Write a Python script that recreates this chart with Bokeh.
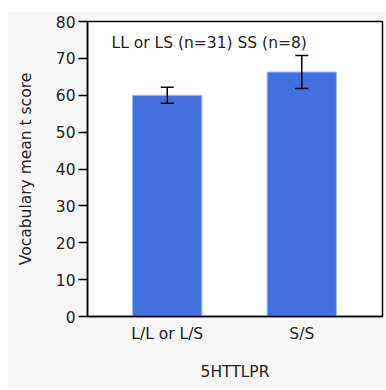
from bokeh.plotting import figure
from bokeh.models import FixedTicker, Whisker, TeeHead, ColumnDataSource, Label, Range1d
from bokeh.embed import file_html
from bokeh.resources import INLINE

# Vocabulary t scores by 5HTTLPR genotype group
genotypes = ["L/L or L/S", "S/S"]
mean_scores = [60.0, 66.3]
sem_scores = [2.2, 4.5]
y_ticks = [0, 10, 20, 30, 40, 50, 60, 70, 80]
group_note = "LL or LS (n=31) SS (n=8)"

positions = list(range(1, len(genotypes) + 1))
source = ColumnDataSource(dict(
    x=positions,
    top=mean_scores,
    upper=[m + s for m, s in zip(mean_scores, sem_scores)],
    lower=[m - s for m, s in zip(mean_scores, sem_scores)],
))

FONT = "DejaVu Sans"
TEXT = "#222222"
SIZE = "15.5px"

p = figure(width=379, height=377, output_backend="svg", toolbar_location=None,
           x_range=Range1d(0.407, 2.6), y_range=Range1d(0, 80),
           min_border_left=80, min_border_top=10, min_border_right=4,
           min_border_bottom=72)
p.margin = (11, 0, 2, 7)
p.border_fill_color = "#f7f7f7"
p.background_fill_color = "white"
p.outline_line_color = "black"
p.outline_line_width = 1.5
p.grid.visible = False

p.vbar(x="x", top="top", width=0.515, source=source,
       fill_color="#4270de", line_color="#a2b6f0", line_width=1)

p.add_layout(Whisker(source=source, base="x", upper="upper", lower="lower",
                     level="overlay", line_color="black", line_width=1.5,
                     upper_head=TeeHead(size=13, line_color="black", line_width=1.5),
                     lower_head=TeeHead(size=13, line_color="black", line_width=1.5)))

p.add_layout(Label(x=0.586, y=74.1, text=group_note, text_font=FONT,
                   text_font_size=SIZE, text_color=TEXT,
                   text_baseline="alphabetic"))

xa = p.xaxis[0]
xa.ticker = FixedTicker(ticks=positions)
xa.major_label_overrides = {pos: name for pos, name in zip(positions, genotypes)}
xa.major_tick_out = 0
xa.major_tick_in = 0
xa.minor_tick_out = 0
xa.minor_tick_in = 0
xa.major_label_standoff = 8
xa.axis_label = "5HTTLPR"
xa.axis_label_standoff = 17
xa.axis_line_color = "black"
xa.axis_line_width = 1.5

ya = p.yaxis[0]
ya.ticker = FixedTicker(ticks=y_ticks)
ya.major_tick_out = 9
ya.major_tick_in = 0
ya.minor_tick_out = 0
ya.minor_tick_in = 0
ya.major_tick_line_width = 1.5
ya.major_label_standoff = 3
ya.axis_label = "Vocabulary mean t score"
ya.axis_label_standoff = 18
ya.axis_line_color = "black"
ya.axis_line_width = 1.5

for ax in (xa, ya):
    ax.major_label_text_font = FONT
    ax.major_label_text_font_size = SIZE
    ax.major_label_text_color = TEXT
    ax.axis_label_text_font = FONT
    ax.axis_label_text_font_size = SIZE
    ax.axis_label_text_font_style = "normal"
    ax.axis_label_text_color = TEXT

open("out.html", "w").write(file_html(p, INLINE))
